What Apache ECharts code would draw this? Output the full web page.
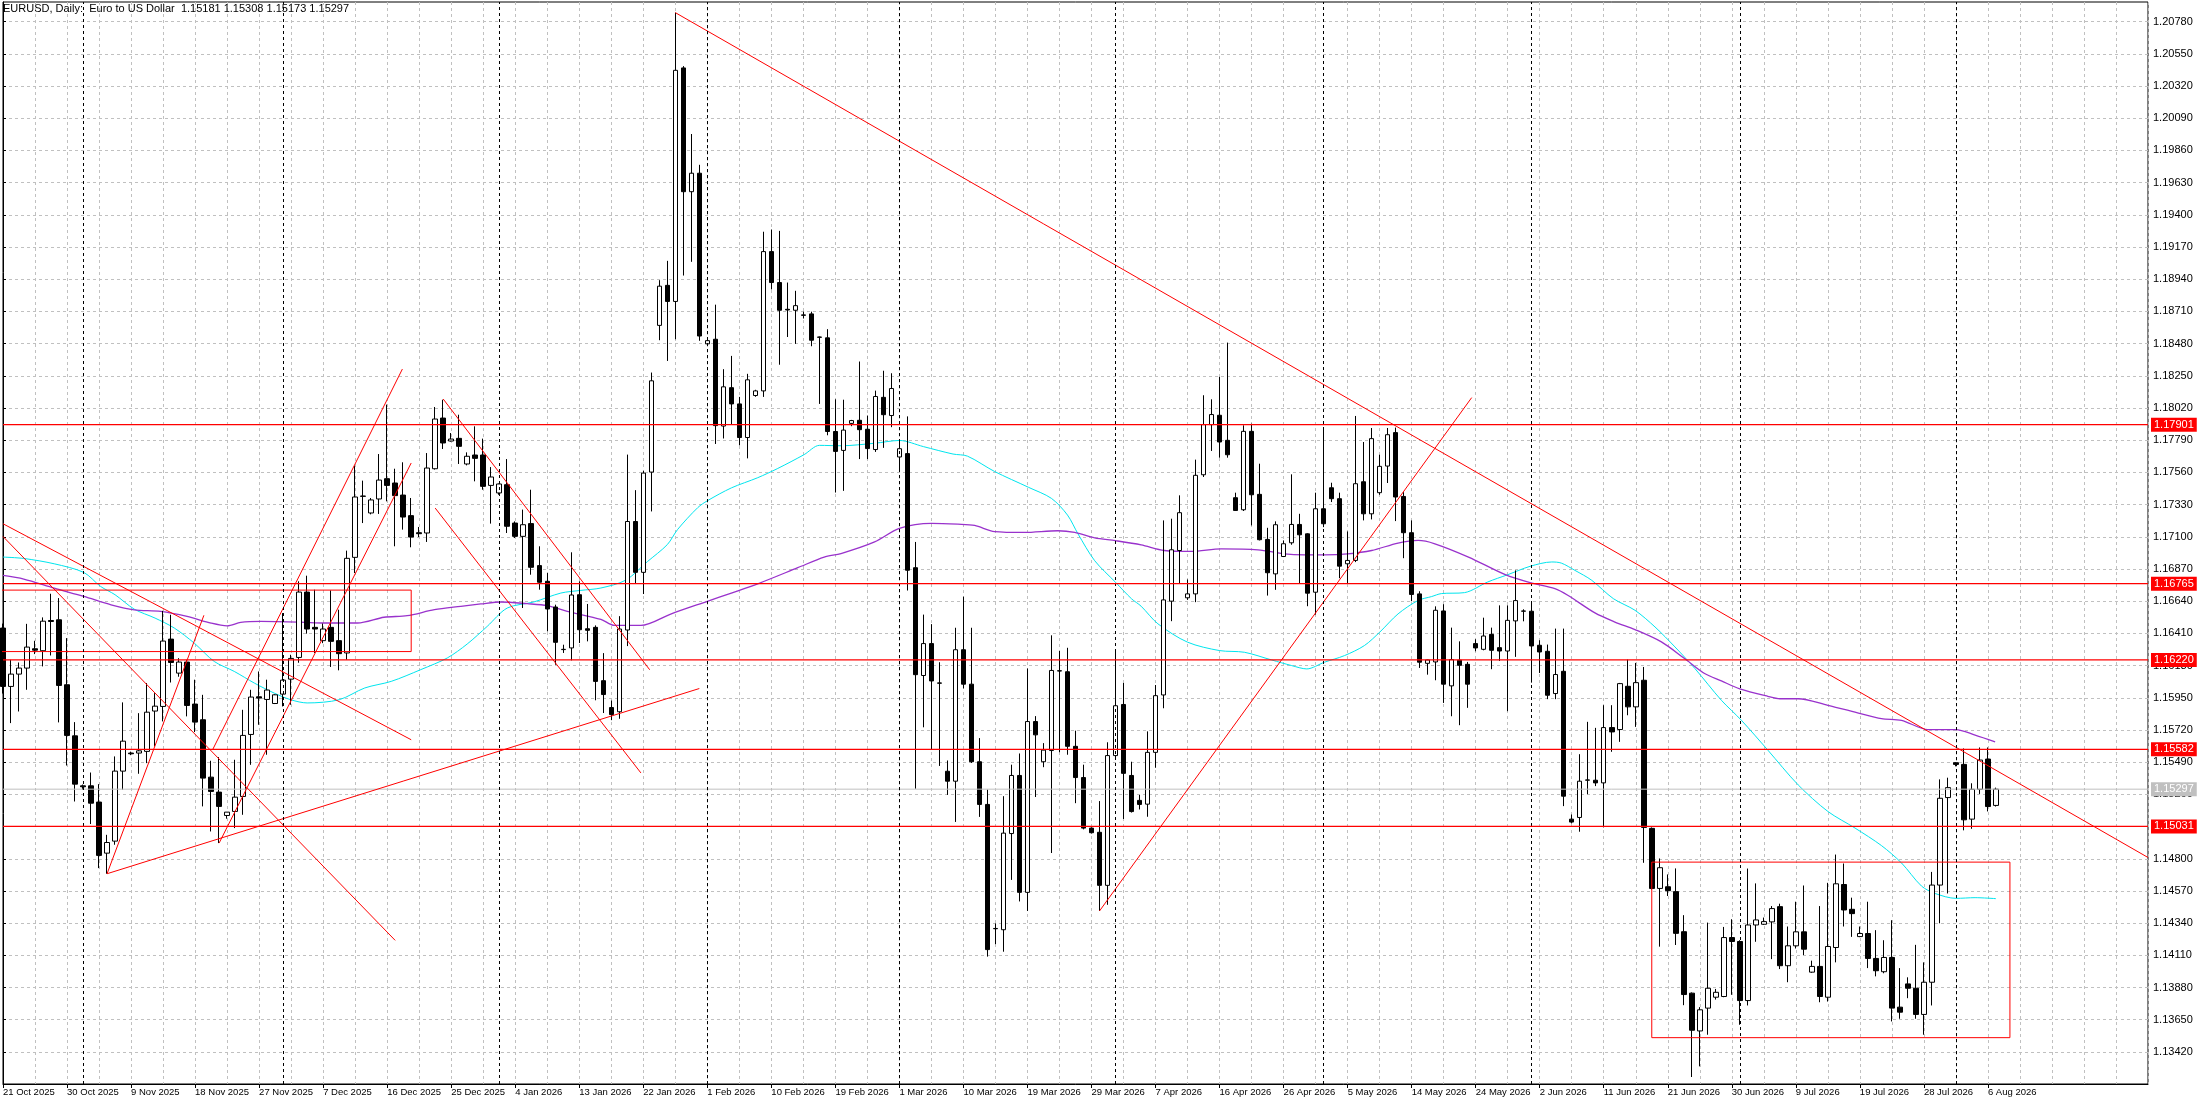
<!DOCTYPE html>
<html><head><meta charset="utf-8">
<script src="https://cdn.jsdelivr.net/npm/echarts@6/dist/echarts.min.js"></script>
<style>html,body{margin:0;padding:0;background:#fff}#c{width:2203px;height:1105px}</style>
</head><body><div id="c"></div>
<script>
// ---- data ----
const opens = [1.16448,1.16031,1.16119,1.16162,1.16300,1.16286,1.16502,1.16507,1.16043,1.15678,
1.15321,1.15321,1.15205,1.14840,1.14926,1.15426,1.15555,1.15555,1.15567,1.15855,
1.15888,1.16369,1.16126,1.16205,1.15905,1.15793,1.15383,1.15276,1.15109,1.15138,
1.15245,1.15688,1.15957,1.15938,1.15909,1.15976,1.16083,1.16238,1.16705,1.16453,
1.16358,1.16453,1.16358,1.16270,1.16953,1.17391,1.17270,1.17370,1.17515,1.17484,
1.17398,1.17251,1.17129,1.17127,1.17586,1.17948,1.17784,1.17803,1.17620,1.17684,
1.17684,1.17467,1.17413,1.17472,1.17198,1.17103,1.17194,1.16894,1.16782,1.16598,
1.16294,1.16306,1.16686,1.16443,1.16453,1.16072,1.15880,1.15850,1.16434,1.17209,
1.16846,1.17562,1.18610,1.18896,1.18781,1.20449,1.19565,1.19697,1.18478,1.18511,
1.17891,1.18165,1.18049,1.17809,1.18109,1.18142,1.19137,1.18916,1.18725,1.18718,
1.18685,1.18692,1.18527,1.18521,1.17852,1.17717,1.17910,1.17932,1.17868,1.17723,
1.18096,1.17966,1.17670,1.17694,1.16879,1.16109,1.16337,1.16056,1.15425,1.15354,
1.16293,1.16047,1.15493,1.15188,1.14302,1.14293,1.14980,1.15395,1.14560,1.15780,
1.15493,1.15573,1.16143,1.16136,1.15603,1.15380,1.15019,1.14989,1.14610,1.15537,
1.15902,1.15395,1.15217,1.15190,1.15560,1.15970,1.16640,1.17002,1.16664,1.16692,
1.17543,1.17901,1.17968,1.17789,1.17379,1.17293,1.17853,1.17403,1.17081,1.16835,
1.16959,1.17057,1.17188,1.17121,1.16704,1.17300,1.17450,1.17372,1.16907,1.16931,
1.17493,1.17264,1.17415,1.17605,1.17844,1.17388,1.17129,1.16692,1.16196,1.16206,
1.16570,1.16035,1.16218,1.16189,1.16337,1.16296,1.16403,1.16308,1.16284,1.16499,
1.16568,1.16568,1.16325,1.16282,1.15980,1.16139,1.15083,1.15095,1.15361,1.15361,
1.15342,1.15737,1.15723,1.16032,1.15885,1.16075,1.15017,1.14588,1.14600,1.14565,
1.14279,1.13840,1.13570,1.13733,1.13811,1.13816,1.14237,1.14209,1.13787,1.14327,
1.14332,1.14349,1.14458,1.14036,1.14178,1.14278,1.13990,1.14031,1.13811,1.14166,
1.14616,1.14439,1.14244,1.14266,1.14088,1.13993,1.14095,1.13740,1.13906,1.13875,
1.13688,1.13918,1.14612,1.15237,1.15486,1.15474,1.15083,1.15296,1.15512,1.15181];
const highs = [1.16480,1.16221,1.16202,1.16478,1.16357,1.16524,1.16693,1.16662,1.16376,1.15776,
1.15330,1.15416,1.15333,1.14971,1.15531,1.15917,1.15565,1.15840,1.16055,1.15983,
1.16571,1.16543,1.16233,1.16221,1.16079,1.15971,1.15500,1.15526,1.15133,1.15507,
1.15864,1.16007,1.16138,1.16079,1.15975,1.16555,1.16257,1.16782,1.16822,1.16722,
1.16480,1.16717,1.16579,1.17001,1.17608,1.17501,1.17377,1.17691,1.18044,1.17586,
1.17632,1.17377,1.17170,1.17698,1.18027,1.18079,1.17841,1.17972,1.17703,1.17889,
1.17801,1.17598,1.17480,1.17655,1.17210,1.17294,1.17436,1.17032,1.16841,1.16615,
1.16329,1.16989,1.16782,1.16620,1.16467,1.16269,1.15930,1.16533,1.17687,1.17433,
1.17571,1.18273,1.18933,1.19071,1.20844,1.20462,1.19977,1.19757,1.18510,1.18758,
1.18297,1.18392,1.18099,1.18264,1.18150,1.19279,1.19295,1.19285,1.18916,1.18857,
1.18708,1.18708,1.18530,1.18583,1.18082,1.18079,1.17935,1.18352,1.17966,1.18144,
1.18286,1.18268,1.17788,1.17960,1.17063,1.16544,1.16476,1.16204,1.15502,1.16450,
1.16672,1.16450,1.15662,1.15294,1.14338,1.15247,1.15472,1.15552,1.16159,1.15819,
1.15626,1.16396,1.16284,1.16307,1.15715,1.15472,1.15025,1.15212,1.15632,1.16287,
1.16056,1.15493,1.15256,1.15710,1.16041,1.17217,1.17229,1.17396,1.16795,1.17651,
1.18111,1.18082,1.18242,1.18487,1.17415,1.17896,1.17908,1.17622,1.17164,1.17210,
1.17074,1.17546,1.17264,1.17125,1.17415,1.17877,1.17486,1.17415,1.17138,1.17963,
1.17777,1.17877,1.17686,1.17877,1.17880,1.17419,1.17217,1.16711,1.16223,1.16603,
1.16618,1.16451,1.16353,1.16206,1.16368,1.16522,1.16451,1.16610,1.16610,1.16860,
1.16582,1.16639,1.16361,1.16330,1.16444,1.16444,1.15116,1.15547,1.15778,1.15735,
1.15897,1.15897,1.16056,1.16223,1.16199,1.16170,1.15024,1.14802,1.14688,1.14731,
1.14397,1.13845,1.13740,1.14344,1.13870,1.14313,1.14368,1.14218,1.14730,1.14624,
1.14380,1.14462,1.14479,1.14316,1.14493,1.14609,1.14072,1.14462,1.14628,1.14830,
1.14766,1.14522,1.14316,1.14493,1.14290,1.14218,1.14361,1.14019,1.13953,1.14185,
1.14060,1.14706,1.15367,1.15379,1.15490,1.15588,1.15339,1.15595,1.15595,1.15308];
const lows = [1.15980,1.15769,1.15852,1.16007,1.16262,1.16174,1.16252,1.15774,1.15466,1.15209,
1.15293,1.15048,1.14733,1.14693,1.14900,1.15293,1.15540,1.15407,1.15483,1.15602,
1.15781,1.16059,1.16100,1.15817,1.15705,1.15174,1.14995,1.14912,1.15086,1.15019,
1.15114,1.15471,1.15757,1.15543,1.15905,1.15888,1.15900,1.16200,1.16408,1.16270,
1.16340,1.16170,1.16146,1.16222,1.16841,1.17198,1.17260,1.17263,1.17353,1.17032,
1.17151,1.17025,1.17098,1.17063,1.17580,1.17727,1.17780,1.17620,1.17610,1.17496,
1.17436,1.17194,1.17400,1.17127,1.17091,1.16591,1.16829,1.16722,1.16424,1.16186,
1.16270,1.16217,1.16341,1.16353,1.15932,1.15841,1.15790,1.15800,1.16319,1.16764,
1.16691,1.17281,1.18504,1.18356,1.18511,1.18966,1.19064,1.18500,1.18470,1.17763,
1.17802,1.17901,1.17753,1.17660,1.18100,1.18099,1.18867,1.18329,1.18527,1.18478,
1.18659,1.18461,1.18049,1.17825,1.17416,1.17428,1.17890,1.17655,1.17655,1.17706,
1.17735,1.17883,1.17566,1.16716,1.15300,1.15739,1.15582,1.15463,1.15256,1.15063,
1.16017,1.15484,1.15099,1.14101,1.14190,1.14136,1.14649,1.14495,1.14427,1.15241,
1.15454,1.14841,1.15561,1.15543,1.15197,1.15010,1.14980,1.14427,1.14471,1.15508,
1.15084,1.15130,1.15152,1.15100,1.15450,1.15875,1.16497,1.16764,1.16649,1.16633,
1.17527,1.17713,1.17665,1.17665,1.17284,1.17284,1.17181,1.17074,1.16680,1.16721,
1.16955,1.17043,1.16764,1.16604,1.16544,1.17169,1.17348,1.16804,1.16764,1.16919,
1.17217,1.17224,1.17400,1.17484,1.17212,1.16947,1.16640,1.16163,1.16115,1.16075,
1.15913,1.15818,1.15754,1.15878,1.16282,1.16289,1.16154,1.16213,1.15854,1.16242,
1.16496,1.16058,1.16127,1.15940,1.15940,1.15176,1.15052,1.14993,1.15261,1.15319,
1.15024,1.15564,1.15635,1.15825,1.15742,1.14771,1.14580,1.14172,1.14534,1.14184,
1.13754,1.13241,1.13317,1.13543,1.13794,1.13811,1.13828,1.13614,1.13752,1.14207,
1.14327,1.14083,1.14012,1.13918,1.14159,1.14112,1.13985,1.13775,1.13780,1.14060,
1.14316,1.14242,1.14240,1.14019,1.13960,1.13982,1.13638,1.13657,1.13804,1.13657,
1.13543,1.13752,1.14339,1.14552,1.15460,1.15003,1.15014,1.15263,1.15138,1.15173];
const closes = [1.16031,1.16119,1.16162,1.16312,1.16290,1.16497,1.16495,1.16038,1.15681,1.15333,
1.15314,1.15197,1.14824,1.14916,1.15426,1.15640,1.15550,1.15571,1.15847,1.15890,
1.16355,1.16202,1.16205,1.15895,1.15776,1.15376,1.15281,1.15174,1.15133,1.15240,
1.15681,1.15955,1.15948,1.16005,1.15971,1.16076,1.16231,1.16705,1.16441,1.16441,
1.16441,1.16353,1.16265,1.16946,1.17384,1.17389,1.17363,1.17505,1.17467,1.17394,
1.17241,1.17098,1.17122,1.17591,1.17941,1.17770,1.17798,1.17746,1.17675,1.17660,
1.17460,1.17527,1.17477,1.17175,1.17103,1.17186,1.16882,1.16775,1.16584,1.16346,
1.16296,1.16684,1.16436,1.16432,1.16067,1.15973,1.15830,1.16441,1.17209,1.16846,
1.17555,1.18214,1.18890,1.18781,1.20432,1.19565,1.19697,1.18534,1.18501,1.17894,
1.18171,1.18049,1.17809,1.18221,1.18142,1.19137,1.18916,1.18718,1.18720,1.18751,
1.18682,1.18504,1.18525,1.17852,1.17710,1.17862,1.17930,1.17865,1.17730,1.18102,
1.17972,1.18159,1.17729,1.16861,1.16115,1.16337,1.16070,1.16054,1.15354,1.16293,
1.16047,1.15493,1.15188,1.14151,1.14300,1.14983,1.15395,1.14560,1.15780,1.15685,
1.15576,1.16145,1.16141,1.15603,1.15380,1.15019,1.14986,1.14610,1.15537,1.15893,
1.15410,1.15137,1.15188,1.15560,1.15965,1.16649,1.17007,1.17272,1.16692,1.17539,
1.17901,1.17973,1.17777,1.17686,1.17288,1.17853,1.17400,1.17079,1.16843,1.17186,
1.17050,1.17188,1.17114,1.16697,1.17300,1.17193,1.17372,1.16890,1.16931,1.17479,
1.17264,1.17801,1.17603,1.17829,1.17384,1.17129,1.16688,1.16204,1.16220,1.16575,
1.16047,1.16223,1.16182,1.16047,1.16306,1.16391,1.16289,1.16284,1.16503,1.16644,
1.16570,1.16320,1.16277,1.15968,1.16116,1.15247,1.15062,1.15354,1.15363,1.15342,
1.15737,1.15706,1.16051,1.15885,1.16058,1.15024,1.14588,1.14736,1.14572,1.14267,
1.13830,1.13575,1.13721,1.13875,1.13846,1.14237,1.14209,1.13787,1.14327,1.14363,
1.14351,1.14444,1.14036,1.14178,1.14278,1.14154,1.14031,1.13816,1.14173,1.14621,
1.14434,1.14408,1.14266,1.14088,1.14000,1.14095,1.13733,1.13704,1.13875,1.13688,
1.13918,1.14612,1.15232,1.15308,1.15474,1.15078,1.15296,1.15505,1.15173,1.15297];

const dateLabels = ["21 Oct 2025","30 Oct 2025","9 Nov 2025","18 Nov 2025","27 Nov 2025","7 Dec 2025",
"16 Dec 2025","25 Dec 2025","4 Jan 2026","13 Jan 2026","22 Jan 2026","1 Feb 2026","10 Feb 2026",
"19 Feb 2026","1 Mar 2026","10 Mar 2026","19 Mar 2026","29 Mar 2026","7 Apr 2026","16 Apr 2026",
"26 Apr 2026","5 May 2026","14 May 2026","24 May 2026","2 Jun 2026","11 Jun 2026","21 Jun 2026",
"30 Jun 2026","9 Jul 2026","19 Jul 2026","28 Jul 2026","6 Aug 2026"];
const labelStep = 8;
const gridStep = 4;
const monthStartBars = [10,35,62,88,112,139,165,191,217,244];
const priceTicks = [1.13420,1.13650,1.13880,1.14110,1.14340,1.14570,1.14800,1.15030,1.15260,1.15490,
1.15720,1.15950,1.16180,1.16410,1.16640,1.16870,1.17100,1.17330,1.17560,1.17790,1.18020,1.18250,
1.18480,1.18710,1.18940,1.19170,1.19400,1.19630,1.19860,1.20090,1.20320,1.20550,1.20780];
const levels = [1.17901,1.16765,1.16220,1.15582,1.15031];
const bidPrice = 1.15297;
const fastMA = [[0,1.16955],[2.6,1.16945],[6.4,1.16907],[10.1,1.16845],[12.2,1.16745],[14,1.16686],[16.4,1.16583],
[19,1.16519],[21.4,1.16448],[23.9,1.16340],[26.4,1.16209],[28.9,1.16138],[31.4,1.16055],[33.9,1.15983],[36,1.15935],
[38,1.15913],[42,1.15936],[45.2,1.16020],[48.5,1.16067],[52.2,1.16151],[55.5,1.16234],[58,1.16334],[60.5,1.16460],
[63,1.16591],[66.3,1.16634],[69.7,1.16698],[72.2,1.16717],[74.7,1.16734],[77.8,1.16790],[80.5,1.16922],[83,1.17044],
[84.3,1.17153],[86.8,1.17308],[88,1.17357],[91,1.17449],[94.3,1.17522],[96.8,1.17588],[100.1,1.17687],[102,1.17753],
[104.7,1.17750],[108.9,1.17768],[112,1.17788],[115,1.17744],[118.7,1.17691],[120.5,1.17676],[123.9,1.17566],
[128.1,1.17454],[131,1.17374],[133,1.17255],[134.3,1.17122],[136.4,1.16929],[139,1.16775],[141,1.16657],[142.2,1.16604],
[144.3,1.16478],[148,1.16347],[152,1.16287],[155.1,1.16275],[158.5,1.16220],[161,1.16180],[162.9,1.16156],[165.1,1.16204],
[167.6,1.16251],[170.1,1.16323],[172,1.16418],[174.3,1.16549],[176.8,1.16645],[178.5,1.16673],[179.7,1.16694],
[182.6,1.16701],[185.5,1.16777],[188,1.16829],[190.8,1.16889],[193.5,1.16920],[194.7,1.16912],[196.4,1.16860],
[198.5,1.16789],[201.2,1.16658],[203.9,1.16575],[206.4,1.16456],[208.9,1.16313],[211.4,1.16158],[214.7,1.15932],
[217.2,1.15789],[220.5,1.15576],[224.3,1.15327],[228,1.15138],[231.4,1.15019],[234.7,1.14894],[237.2,1.14770],
[239.7,1.14605],[241.4,1.14552],[244,1.14517],[246.4,1.14522],[249,1.14515]];
const slowMA = [[0,1.16824],[2.6,1.16798],[6.4,1.16733],[10.1,1.16674],[13.5,1.16614],[16.4,1.16578],[19.7,1.16567],
[23,1.16531],[26,1.16483],[28,1.16464],[29.7,1.16488],[32.2,1.16495],[37.2,1.16490],[40.1,1.16484],[44.3,1.16484],
[47.6,1.16525],[50.5,1.16536],[53.9,1.16579],[57.2,1.16603],[59.7,1.16620],[62.2,1.16634],[65.5,1.16622],[68,1.16608],
[70.5,1.16567],[74.7,1.16510],[76.4,1.16467],[79.7,1.16467],[83.5,1.16550],[88,1.16639],[91,1.16698],[94.3,1.16764],
[99.3,1.16879],[102.6,1.16955],[104.7,1.16980],[108.9,1.17063],[112,1.17160],[116,1.17196],[119.3,1.17190],
[121.4,1.17181],[123.9,1.17137],[127.6,1.17131],[131.8,1.17143],[133.9,1.17131],[136.4,1.17092],[139,1.17072],
[142.2,1.17042],[145.1,1.17002],[148.5,1.16995],[152.2,1.17014],[156.8,1.17007],[160.1,1.16978],[162.6,1.16971],
[165.1,1.16971],[168,1.16978],[171,1.17002],[174.3,1.17055],[176.8,1.17074],[178.9,1.17050],[183.1,1.16955],
[187.7,1.16829],[190.8,1.16772],[193.9,1.16729],[195.5,1.16682],[198.9,1.16556],[201.4,1.16491],[203.9,1.16437],
[207.2,1.16349],[210.1,1.16230],[212.6,1.16123],[214.7,1.16070],[217,1.16014],[220.5,1.15960],[222,1.15943],
[224.3,1.15943],[228,1.15896],[231.4,1.15848],[234.7,1.15801],[237.2,1.15789],[240.5,1.15723],[244,1.15723],
[246.4,1.15683],[248.9,1.15635]];
// trend lines: [bar1, price1, bar2, price2]
const trendLines = [
  [84,1.20844,268,1.14809],
  [137,1.14427,183.5,1.18094],
  [0,1.17193,51,1.15650],
  [0,1.17102,49,1.14217],
  [13,1.14693,87,1.16016],
  [13,1.14693,25.1,1.16539],
  [27,1.14912,51,1.17627],
  [26.2,1.15580,49.9,1.18298],
  [55,1.18084,80.8,1.16150],
  [54,1.17305,79.7,1.15413]
];
// rectangles: [bar1, priceTop, bar2, priceBottom]
const boxes = [[-2,1.16719,51,1.16280],[206,1.14776,250.75,1.13522]];
const slotCount = 269; // bars + empty space to the right
const titleText = "EURUSD, Daily:  Euro to US Dollar  1.15181 1.15308 1.15173 1.15297";

// ---- chart ----
const FONT = "'Liberation Sans',Arial,sans-serif";
const cats = Array.from({length: slotCount}, (_, i) => i);
const candleData = opens.map((o, i) => [o, closes[i], lows[i], highs[i]]);
const labelIdx = (i) => i % labelStep === 0 && (i / labelStep) < dateLabels.length;

const series = [];
// month separators
series.push({
  type: 'line', xAxisIndex: 1, data: [], silent: true, z: 1,
  markLine: {
    silent: true, symbol: ['none','none'], animation: false,
    data: monthStartBars.map(b => ({xAxis: b})),
    lineStyle: {color: '#000', type: [3,3], width: 1},
    label: {show: false}
  }
});
series.push({
  type: 'line', xAxisIndex: 1, data: fastMA, showSymbol: false, smooth: 0.3, silent: true, z: 2,
  lineStyle: {color: '#00e5ee', width: 1}
});
series.push({
  type: 'line', xAxisIndex: 1, data: slowMA, showSymbol: false, smooth: 0.3, silent: true, z: 2,
  lineStyle: {color: '#9932cc', width: 1.3}
});
series.push({
  type: 'candlestick', xAxisIndex: 0, data: candleData, barWidth: 5, z: 3, silent: true,
  itemStyle: {color: '#ffffff', color0: '#000000', borderColor: '#000000', borderColor0: '#000000', borderWidth: 1}
});
// horizontal price levels with their axis tags
const levelSeries = (v, col, w, z) => ({
  type: 'line', xAxisIndex: 1, data: [[0, v], [slotCount - 1, v]], showSymbol: false, silent: true, z: z,
  lineStyle: {color: col, width: w},
  endLabel: {show: true, distance: 3, color: '#fff', backgroundColor: col, padding: [2,3,1,3],
             fontSize: 11, fontFamily: FONT, formatter: () => v.toFixed(5)}
});
series.push(levelSeries(bidPrice, '#c0c0c0', 1, 4));
levels.forEach(v => series.push(levelSeries(v, '#ff0000', 1.3, 5)));
trendLines.forEach(t => series.push({
  type: 'line', xAxisIndex: 1, data: [[t[0], t[1]], [t[2], t[3]]], showSymbol: false, silent: true, z: 4,
  lineStyle: {color: '#ff0000', width: 1}
}));
boxes.forEach(b => series.push({
  type: 'line', xAxisIndex: 1,
  data: [[b[0], b[1]], [b[2], b[1]], [b[2], b[3]], [b[0], b[3]], [b[0], b[1]]],
  showSymbol: false, silent: true, z: 4, lineStyle: {color: '#ff0000', width: 1}
}));

const chart = echarts.init(document.getElementById('c'), null, {renderer: 'canvas'});
chart.setOption({
  animation: false,
  backgroundColor: '#ffffff',
  textStyle: {fontFamily: FONT},
  title: {text: titleText, left: 3, top: 3, padding: 0,
          textStyle: {fontSize: 11, fontWeight: 'normal', color: '#000', fontFamily: FONT}},
  grid: {left: 2, right: 55, top: 2, bottom: 21, show: true, borderColor: '#000', borderWidth: 1,
         backgroundColor: '#fff', containLabel: false},
  xAxis: [{
    type: 'category', data: cats, boundaryGap: false,
    axisLine: {show: true, lineStyle: {color: '#000', width: 1}},
    axisTick: {show: true, interval: (i) => labelIdx(i), length: 4, lineStyle: {color: '#000'}},
    axisLabel: {show: true, interval: (i) => labelIdx(i), align: 'left', margin: 3, fontSize: 9.5,
                color: '#000', fontFamily: FONT,
                formatter: (v, i) => labelIdx(i) ? dateLabels[i / labelStep] : ''},
    splitLine: {show: true, interval: (i) => i % gridStep === 0,
                lineStyle: {color: '#c0c0c0', type: [3,3], width: 1}}
  }, {
    type: 'value', min: 0, max: slotCount - 1, show: false
  }],
  yAxis: [{
    type: 'value', position: 'right', min: 1.13191, max: 1.20920, scale: true,
    axisLine: {show: true, lineStyle: {color: '#000', width: 1}},
    axisTick: {show: true, length: 3, customValues: priceTicks, lineStyle: {color: '#000'}},
    axisLabel: {show: true, customValues: priceTicks, margin: 5, fontSize: 11, color: '#000', fontFamily: FONT,
                formatter: (v) => v.toFixed(5)},
    splitLine: {show: true, lineStyle: {color: '#c0c0c0', type: [3,3], width: 1}}
  }],
  series: series
});
</script></body></html>
